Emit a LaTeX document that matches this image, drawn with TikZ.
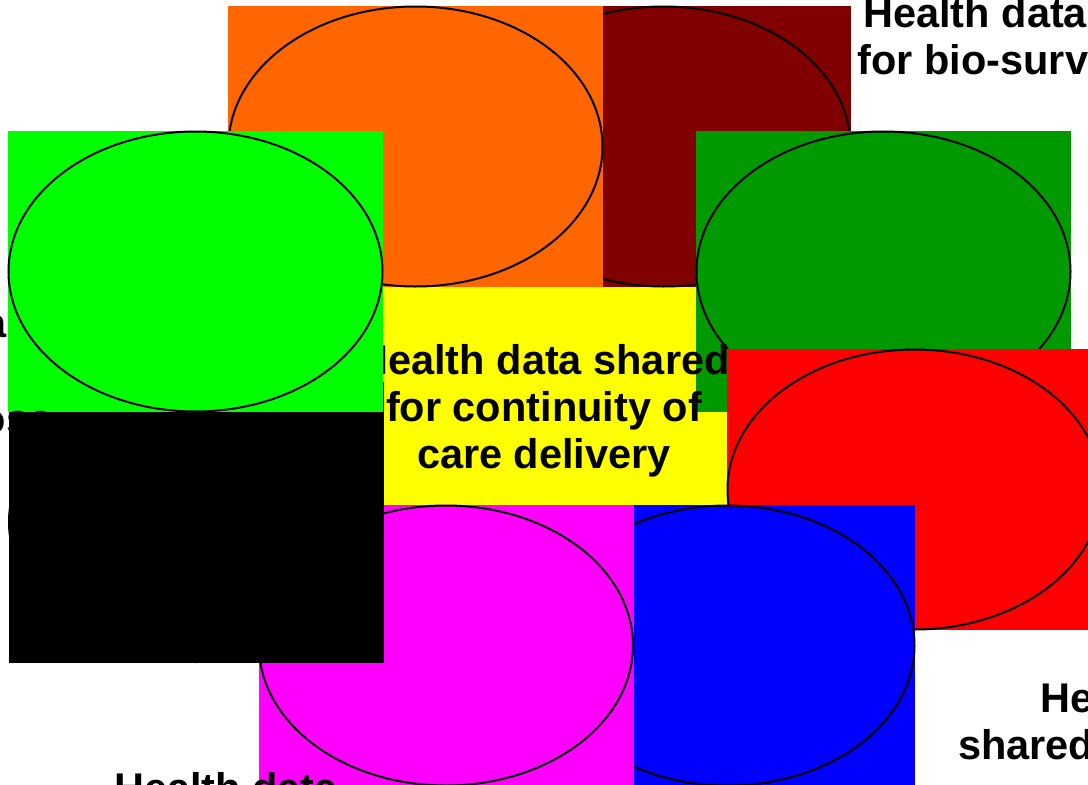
\documentclass[tikz,border=0pt]{standalone}
\usepackage{fontspec}
\setmainfont{Liberation Sans}
\usetikzlibrary{shapes.geometric}
\definecolor{cOrange}{HTML}{FF6600}
\definecolor{cMaroon}{HTML}{800000}
\definecolor{cLime}{HTML}{00FF00}
\definecolor{cDkGreen}{HTML}{009900}
\definecolor{cRed}{HTML}{FF0000}
\definecolor{cBlue}{HTML}{0000FF}
\definecolor{cMagenta}{HTML}{FF00FF}
\definecolor{cYellow}{HTML}{FFFF00}
\tikzset{
  tile/.style={rectangle, inner sep=0pt, outer sep=0pt, minimum width=375pt, minimum height=281pt, draw=none},
  oval/.style={ellipse, inner sep=0pt, outer sep=0pt, minimum width=374pt, minimum height=280pt, draw=black, line width=2pt},
  lbl/.style={inner sep=0pt, outer sep=0pt, font=\fontsize{41.5}{47}\selectfont\bfseries, text=black},
}
\begin{document}
\begin{tikzpicture}[x=1pt,y=-1pt]
\useasboundingbox (0,0) rectangle (1088,785);
\clip (0,0) rectangle (1088,785);
\fill[white] (0,0) rectangle (1088,785);
% centre tile
\node[rectangle, inner sep=0pt, outer sep=0pt, minimum width=368pt, minimum height=218pt, fill=cYellow] (core) at (543,396) {};
% maroon (top right)
\node[tile, fill=cMaroon] (tMaroon) at (663.5,146.5) {};
\node[oval, fill=cMaroon] (eMaroon) at (tMaroon) {};
% orange (top left)
\node[tile, fill=cOrange] (tOrange) at (415.5,146.5) {};
\node[oval, fill=cOrange] (eOrange) at (tOrange) {};
% dark green (right)
\node[tile, fill=cDkGreen] (tDkGreen) at (883.5,271.5) {};
\node[oval, fill=cDkGreen] (eDkGreen) at (tDkGreen) {};
% red (lower right)
\node[tile, fill=cRed] (tRed) at (914.5,489.5) {};
\node[oval, fill=cRed] (eRed) at (tRed) {};
% centre text
\node[lbl, anchor=base] (c1) at (544,374) {Health data shared};
\node[lbl, anchor=base] (c2) at (544,421.5) {for continuity of};
\node[lbl, anchor=base] (c3) at (544,468.5) {care delivery};
% top right label
\node[lbl, anchor=base] (tr1) at (1049,27.3) {Health data shared};
\node[lbl, anchor=base] (tr2) at (1049,74.3) {for bio-surveillance};
% bottom right label
\node[lbl, anchor=base] (br1) at (1152,712) {Health data};
\node[lbl, anchor=base] (br2) at (1152,759.5) {shared for research};
% blue (bottom right)
\node[tile, fill=cBlue] (tBlue) at (727.5,645.5) {};
\node[oval, fill=cBlue] (eBlue) at (tBlue) {};
% magenta (bottom left)
\node[tile, fill=cMagenta] (tMagenta) at (446,645.5) {};
\node[oval, fill=cMagenta] (eMagenta) at (tMagenta) {};
% bottom left label
\node[lbl, anchor=base] (bl1) at (226,802.4) {Health data};
% black (lower left)
\node[tile, fill=black] (tBlack) at (196,522) {};
\node[oval, fill=black] (eBlack) at (tBlack) {};
% lime green (upper left)
\node[tile, fill=cLime] (tLime) at (195.5,271.5) {};
\node[oval, fill=cLime] (eLime) at (tLime) {};
% left label
\node[lbl, anchor=base] (l1) at (-105.5,337) {Health data};
\node[lbl, anchor=base] (l2) at (-105.5,385) {shared for};
\node[lbl, anchor=base] (l3) at (-105.5,433) {clinical purpose};
\end{tikzpicture}
\end{document}
